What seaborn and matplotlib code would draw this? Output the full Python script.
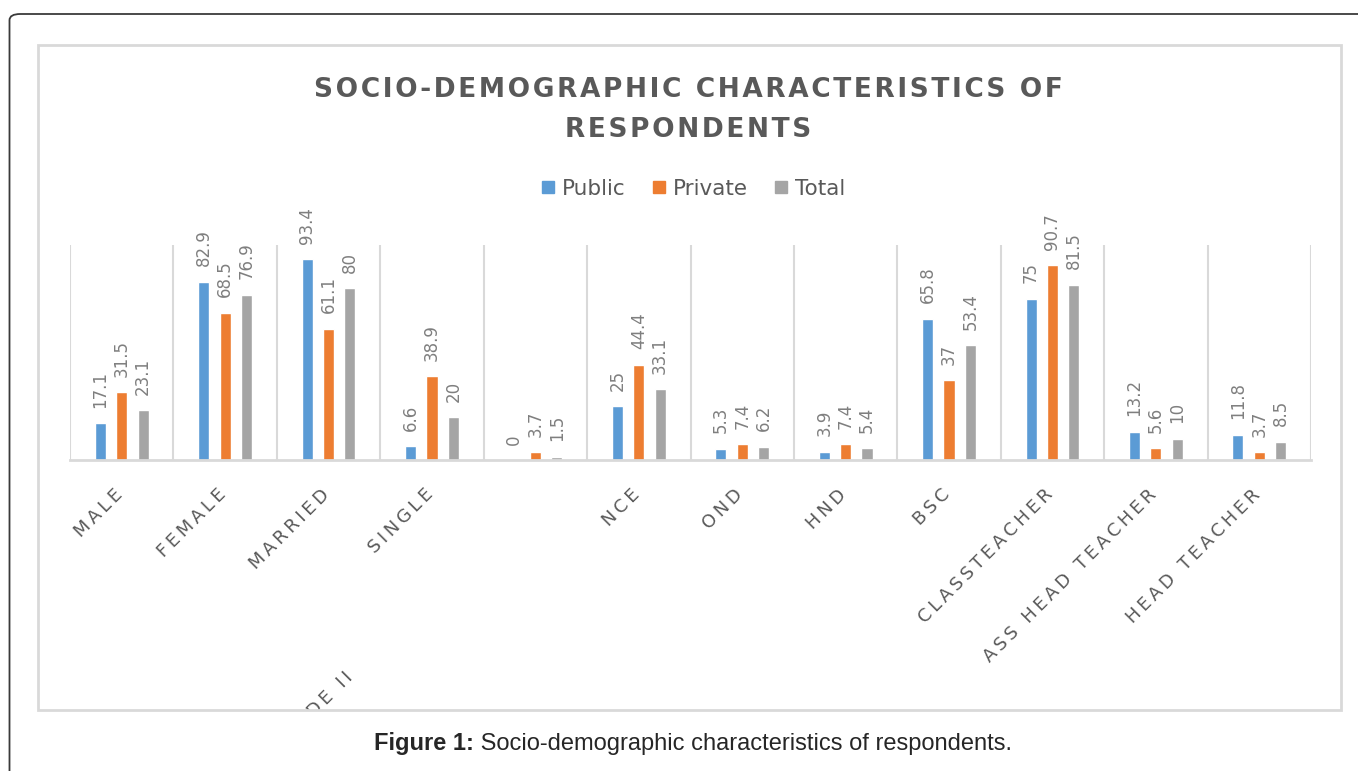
import matplotlib
matplotlib.use('Agg')
import matplotlib.pyplot as plt
import matplotlib.transforms as mtransforms
from matplotlib.patches import Rectangle, FancyBboxPatch
from matplotlib.lines import Line2D
import seaborn as sns
import pandas as pd

# data
categories = ['MALE', 'FEMALE', 'MARRIED', 'SINGLE', 'GRADE II', 'NCE', 'OND', 'HND',
              'BSC', 'CLASSTEACHER', 'ASS HEAD TEACHER', 'HEAD TEACHER']
public = [17.1, 82.9, 93.4, 6.6, 0, 25, 5.3, 3.9, 65.8, 75, 13.2, 11.8]
private = [31.5, 68.5, 61.1, 38.9, 3.7, 44.4, 7.4, 7.4, 37, 90.7, 5.6, 3.7]
total = [23.1, 76.9, 80, 20, 1.5, 33.1, 6.2, 5.4, 53.4, 81.5, 10, 8.5]
groups = ['Public', 'Private', 'Total']
colors = ['#5B9BD5', '#ED7D31', '#A5A5A5']

df = pd.DataFrame({
    'Category': categories * 3,
    'Group': [g for g in groups for _ in categories],
    'Value': public + private + total,
})

sns.set_style('white')
plt.rcParams['font.family'] = ['DejaVu Sans']

W, H = 1358, 771
fig = plt.figure(figsize=(W / 100, H / 100), dpi=100)

# axes placed in pixel terms of the reference
ax = fig.add_axes([70 / W, 1 - 460 / H, (1311 - 70) / W, 215 / H])

sns.barplot(data=df, x='Category', y='Value', hue='Group', order=categories,
            hue_order=groups, palette=colors, saturation=1, width=0.62, gap=0.48,
            legend=False, ax=ax)

ax.set_xlim(-0.5, len(categories) - 0.5)
ax.set_ylim(0, 100)
ax.set_yticks([])
ax.set_xlabel('')
ax.set_ylabel('')
sns.despine(ax=ax, left=True, top=True, right=True)
ax.spines['bottom'].set_color('#D9D9D9')
ax.spines['bottom'].set_linewidth(2)

# vertical separators between categories
for i in range(len(categories) + 1):
    ax.axvline(i - 0.5, color='#D9D9D9', lw=1.5, zorder=0)

# value labels
for cont in ax.containers:
    ax.bar_label(cont, fmt='%g', rotation=90, padding=11, fontsize=12, color='#7F7F7F')

# letter-spaced labels
def spaced(s, sep='\u2009'):
    return sep.join(s)

ticklabels = [spaced(c) for c in categories]
ticklabels[4] = ticklabels[4] + ' ' * 45   # long padded label, clipped by the frame
ax.set_xticks(range(len(categories)))
ax.set_xticklabels(ticklabels, rotation=45, ha='right', va='center',
                   rotation_mode='anchor', fontsize=13, color='#595959')
ax.tick_params(axis='x', length=0, pad=23)
shift = mtransforms.ScaledTranslation(-2 / 100, 0, fig.dpi_scale_trans)
for lab in ax.get_xticklabels():
    lab.set_transform(lab.get_transform() + shift)

# chart area frame and outer frame
inner = Rectangle((38 / W, 1 - 710 / H), (1341 - 38) / W, (710 - 44.5) / H,
                  transform=fig.transFigure, fill=False, ec='#D9D9D9', lw=2)
fig.patches.append(inner)
outer = FancyBboxPatch((9.5 / W, -0.1), 1.2, 1.1 - 14 / H,
                       boxstyle='round,pad=0,rounding_size=0.008',
                       transform=fig.transFigure, fill=False, ec='#3a3a3a', lw=1.3)
fig.patches.append(outer)

ax.get_xticklabels()[4].set_clip_path(inner)

# title
title = 'SOCIO-DEMOGRAPHIC CHARACTERISTICS OF\nRESPONDENTS'
title = '\n'.join(spaced(line, '\u200a') for line in title.split('\n'))
fig.text(688 / W, 1 - 110 / H, title,
         ha='center', va='center', fontsize=19, fontweight='bold', color='#595959',
         linespacing=1.72)

# legend
handles = [Line2D([], [], marker='s', ls='', color=c, markersize=9) for c in colors]
fig.legend(handles, groups, loc='center', bbox_to_anchor=(693 / W, 1 - 189 / H),
           ncol=3, frameon=False, fontsize=15.5, handletextpad=0.3, columnspacing=1.2,
           handlelength=0.7, labelcolor='#595959')

# caption
t1 = fig.text(474 / W, 1 - 750 / H, 'Figure 1:', ha='right', va='baseline',
              fontsize=17, fontweight='bold', family='Liberation Sans')
ax.annotate(' Socio-demographic characteristics of respondents.',
            xy=(1, 1 - 750 / H), xycoords=(t1, 'figure fraction'),
            ha='left', va='baseline', fontsize=17, family='Liberation Sans',
            annotation_clip=False)

fig.savefig('out.png', dpi=100, facecolor='white')
